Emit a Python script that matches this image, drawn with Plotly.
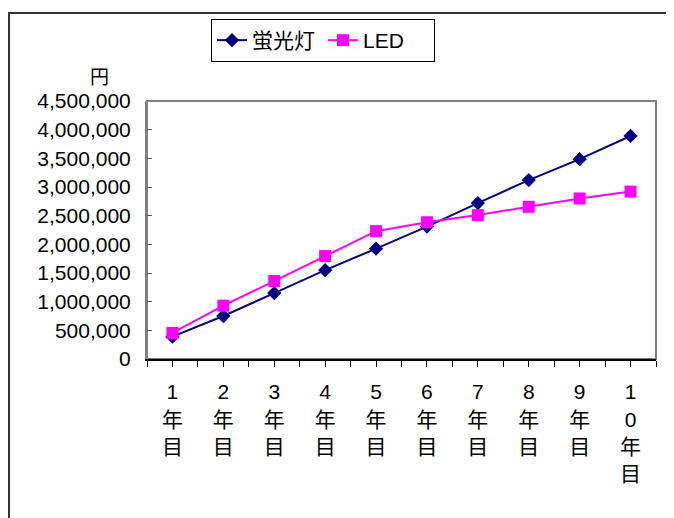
import plotly.graph_objects as go

years = ["1<br>年<br>目", "2<br>年<br>目", "3<br>年<br>目", "4<br>年<br>目", "5<br>年<br>目",
         "6<br>年<br>目", "7<br>年<br>目", "8<br>年<br>目", "9<br>年<br>目", "1<br>0<br>年<br>目"]
x_pos = [1, 2, 3, 4, 5, 6, 7, 8, 9, 10]
fluorescent = [390000, 750000, 1150000, 1550000, 1925000, 2310000, 2720000, 3120000, 3485000, 3890000]
led = [455000, 930000, 1360000, 1795000, 2230000, 2385000, 2510000, 2655000, 2800000, 2920000]

FONT = "Liberation Sans, Arial, Noto Sans CJK JP, sans-serif"

fig = go.Figure()
fig.add_trace(go.Scatter(
    x=x_pos, y=fluorescent, name="蛍光灯", mode="lines+markers",
    line=dict(color="#000080", width=2),
    marker=dict(symbol="diamond", size=11, color="#000080"),
))
fig.add_trace(go.Scatter(
    x=x_pos, y=led, name="LED", mode="lines+markers",
    line=dict(color="#FF00FF", width=2),
    marker=dict(symbol="square", size=12, color="#FF00FF"),
))

# page body adds an 8px offset; positions below are in screenshot pixels
OFF = 8
W, H = 674, 518
PL, PR, PT, PB = 147, 656, 101, 359  # plot area in screenshot pixels
L, R, T, B = PL - OFF, W - (PR - OFF), PT - OFF, H - (PB - OFF)
pw, ph = W - L - R, H - T - B

def px_x(p):
    return (p - OFF - L) / pw

def px_y(p):
    return (H - B - (p - OFF)) / ph

fig.update_layout(
    width=W, height=H,
    margin=dict(l=L, r=R, t=T, b=B, autoexpand=False),
    paper_bgcolor="white", plot_bgcolor="white",
    font=dict(family=FONT, size=21, color="black"),
    showlegend=True,
    legend=dict(
        orientation="h", xref="container", yref="container",
        x=(211 - OFF) / W, y=1 - (19 - OFF) / H, xanchor="left", yanchor="top",
        bordercolor="black", borderwidth=1, bgcolor="white",
        font=dict(size=21), itemwidth=30, entrywidth=66, entrywidthmode="pixels",
    ),
    xaxis=dict(
        range=[0.5, 10.5], tickmode="array", tickvals=x_pos, ticktext=years,
        ticks="outside", ticklen=6, tickcolor="black", tickwidth=1,
        showline=True, linecolor="black", linewidth=2, automargin=False,
        showgrid=False, zeroline=False, ticklabelstandoff=7,
        minor=dict(ticks="outside", ticklen=6, tickcolor="black", dtick=0.5, tick0=0.5),
        tickfont=dict(size=21),
    ),
    yaxis=dict(
        range=[0, 4500000], dtick=500000, tickformat=",d", automargin=False,
        ticks="inside", ticklen=5, tickcolor="#555", showline=True, linecolor="#808080",
        linewidth=2, showgrid=False, zeroline=False, ticklabelstandoff=10,
        tickfont=dict(size=21),
    ),
    shapes=[
        dict(type="rect", xref="paper", yref="paper", x0=0, x1=1, y0=0, y1=1,
             line=dict(color="#808080", width=2), layer="below"),
        dict(type="rect", xref="paper", yref="paper",
             x0=px_x(9), x1=px_x(700), y0=px_y(13), y1=px_y(560),
             line=dict(color="#333333", width=2)),
    ],
    annotations=[
        dict(text="円", xref="paper", yref="paper", x=px_x(99), y=px_y(77),
             showarrow=False, font=dict(size=19), xanchor="center", yanchor="middle"),
    ],
)

fig.write_html("out.html")
